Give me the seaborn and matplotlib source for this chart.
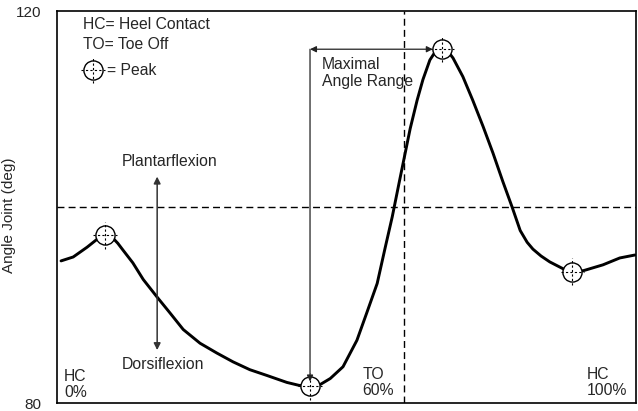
import matplotlib
matplotlib.use("Agg")
import matplotlib.pyplot as plt
import seaborn as sns
import pandas as pd

# ankle angle over one gait cycle
gait_pct = [0.7, 2.8, 5.2, 6.9, 8.3, 9.7, 10.5, 11.4, 13.1, 14.9, 17.3, 19.5, 21.8, 24.7,
            27.6, 30.4, 33.3, 36.3, 39.7, 41.8, 43.7, 45.5, 47.2, 49.4, 51.8, 53.5, 55.3,
            56.7, 57.9, 59.2, 60.1, 61.0, 62.2, 63.2, 64.4, 65.5, 66.5, 67.5, 68.4, 70.1,
            71.8, 73.6, 75.3, 77.0, 78.6, 80.0, 81.2, 82.2, 83.6, 85.1, 87.4, 89.0, 90.9,
            94.3, 97.2, 99.8]
angle = [94.5, 94.9, 95.9, 96.7, 97.1, 96.8, 96.3, 95.6, 94.3, 92.6, 90.8, 89.2, 87.5, 86.1,
         85.1, 84.2, 83.4, 82.8, 82.1, 81.8, 81.7, 81.9, 82.5, 83.7, 86.4, 89.2, 92.2,
         95.9, 99.0, 102.8, 105.4, 108.0, 110.9, 113.0, 115.0, 116.0, 116.2, 115.9, 115.2, 113.3,
         110.9, 108.2, 105.5, 102.6, 100.0, 97.6, 96.4, 95.7, 95.0, 94.4, 93.7, 93.4, 93.5,
         94.1, 94.8, 95.1]

peak_x = [8.3, 43.7, 66.5, 89.0]
peak_y = [97.1, 81.7, 116.1, 93.4]

neutral_angle = 100
toe_off_pct = 60
y_ticks = [80, 120]

df = pd.DataFrame({"pct": gait_pct, "angle": angle})

sns.set_style("white")
plt.rcParams["font.family"] = ["Liberation Sans", "DejaVu Sans"]
FS = 11.3

fig = plt.figure(figsize=(6.38, 4.11), dpi=100)
ax = fig.add_axes([57 / 638, 1 - 403 / 411, 579 / 638, 392 / 411])

ax.axhline(neutral_angle, color="black", lw=1, ls=(0, (5, 3)), zorder=1)
ax.axvline(toe_off_pct, color="black", lw=1, ls=(0, (5, 3)), zorder=1)

sns.lineplot(data=df, x="pct", y="angle", color="black", lw=2.1, sort=False, ax=ax, zorder=2)

# peak markers: white circle with dashed crosshair
ax.scatter(peak_x, peak_y, s=190, facecolors="white", edgecolors="black", lw=1, zorder=3)
for px, py in zip(peak_x, peak_y):
    ax.plot([px - 2.0, px + 2.0], [py, py], color="black", lw=0.8, ls=(0, (2, 2)), zorder=4)
    ax.plot([px, px], [py - 1.35, py + 1.35], color="black", lw=0.8, ls=(0, (2, 2)), zorder=4)

# maximal angle range connector
ax.annotate("", xy=(peak_x[2] - 1.6, peak_y[2]), xytext=(peak_x[1], peak_y[2]),
            arrowprops=dict(arrowstyle="<|-|>", color="#222222", lw=0.9,
                            mutation_scale=9, shrinkA=0, shrinkB=0), zorder=5)
ax.annotate("", xy=(peak_x[1], peak_y[1] + 0.5), xytext=(peak_x[1], peak_y[2]),
            arrowprops=dict(arrowstyle="-|>", color="#222222", lw=0.9,
                            mutation_scale=9, shrinkA=0, shrinkB=0), zorder=5)
ax.text(45.8, 113.7, "Maximal\nAngle Range", fontsize=FS, ha="left", va="center",
        linespacing=1.2)

# plantar / dorsi flexion arrow
ax.annotate("", xy=(17.3, 103.1), xytext=(17.3, 85.4),
            arrowprops=dict(arrowstyle="<|-|>", color="#333333", lw=1.1,
                            mutation_scale=10, shrinkA=0, shrinkB=0))
ax.text(19.5, 104.6, "Plantarflexion", fontsize=FS, ha="center", va="center")
ax.text(18.3, 83.9, "Dorsiflexion", fontsize=FS, ha="center", va="center")

# legend text
ax.text(4.5, 118.6, "HC= Heel Contact", fontsize=FS, ha="left", va="center")
ax.text(4.5, 116.6, "TO= Toe Off", fontsize=FS, ha="left", va="center")
ax.text(8.6, 113.9, "= Peak", fontsize=FS, ha="left", va="center")
lx, ly = 0.062, 0.849
ax.scatter([lx], [ly], s=190, facecolors="white", edgecolors="black", lw=1,
           transform=ax.transAxes, zorder=3, clip_on=False)
ax.plot([lx - 0.021, lx + 0.021], [ly, ly], color="black", lw=0.8, ls=(0, (2, 2)),
        transform=ax.transAxes, zorder=4)
ax.plot([lx, lx], [ly - 0.033, ly + 0.033], color="black", lw=0.8, ls=(0, (2, 2)),
        transform=ax.transAxes, zorder=4)

# event labels
ax.text(1.2, 81.9, "HC\n0%", fontsize=FS, ha="left", va="center", linespacing=1.05)
ax.text(52.8, 82.1, "TO\n60%", fontsize=FS, ha="left", va="center", linespacing=1.05)
ax.text(91.5, 82.1, "HC\n100%", fontsize=FS, ha="left", va="center", linespacing=1.05)

ax.set_xlim(0, 100)
ax.set_ylim(80, 120)
ax.set_xticks([])
ax.set_yticks(y_ticks)
ax.tick_params(axis="y", length=0, pad=11, labelsize=11)
ax.set_xlabel("")
ax.set_ylabel("Angle Joint (deg)", fontsize=11)
ax.yaxis.set_label_coords(-0.07, 0.48)
for sp in ax.spines.values():
    sp.set_color("black")
    sp.set_linewidth(1.2)

fig.savefig("out.png", dpi=100)
